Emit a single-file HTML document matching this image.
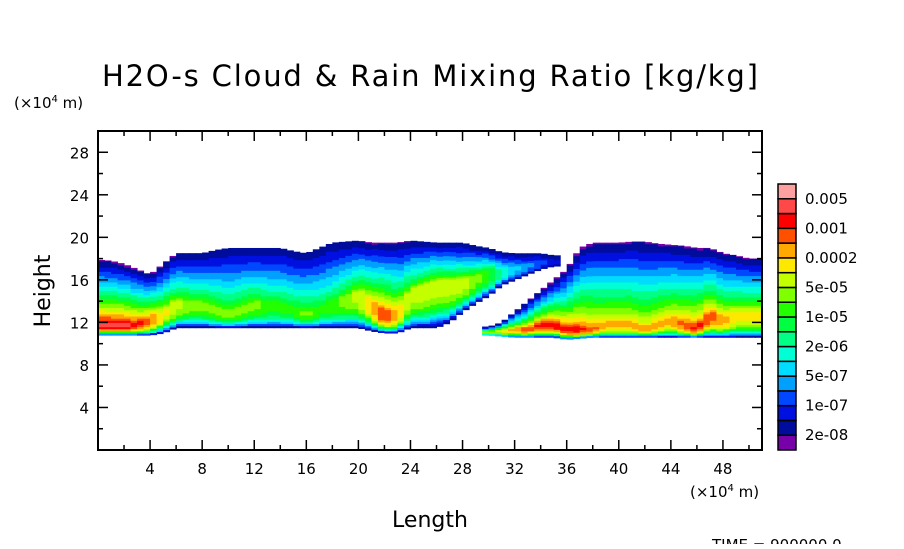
<!DOCTYPE html>
<html><head><meta charset="utf-8"><style>
body{margin:0;background:#fff;width:904px;height:544px;overflow:hidden}
svg text{font-family:"DejaVu Sans","Liberation Sans",sans-serif;fill:#000}
</style></head><body>
<svg id="chart" width="904" height="544" viewBox="0 0 904 544" xmlns="http://www.w3.org/2000/svg">
<text x="102" y="86" font-size="29" textLength="656" lengthAdjust="spacing">H2O-s Cloud &amp; Rain Mixing Ratio [kg/kg]</text>
<text x="14" y="108" font-size="15">(×10<tspan dy="-6" font-size="10">4</tspan><tspan dy="6"> m)</tspan></text>
<text x="690" y="497" font-size="15">(×10<tspan dy="-6" font-size="10">4</tspan><tspan dy="6"> m)</tspan></text>
<text x="430" y="527" font-size="22" text-anchor="middle">Length</text>
<text x="50" y="291" font-size="22" text-anchor="middle" transform="rotate(-90 50 291)">Height</text>
<text x="712" y="550" font-size="15">TIME = 900000.0</text>
<g id="cells"></g>
<g id="axes"></g>
<g id="cbar"></g>
</svg>
<script>
const xCols=[0,1,2,3,4,5,6,7,8,9,10,11,12,13,14,15,16,17,18,19,20,21,22,23,24,25,26,27,28,29,30,31,32,33,34,35,36,37,38,39,40,41,42,43,44,45,46,47,48,49,50,51];
// layer A (upper-left cloud)
const baseA=[10.8,10.8,10.8,10.8,10.8,11,11.5,11.5,11.5,11.5,11.5,11.5,11.5,11.5,11.5,11.5,11.5,11.5,11.5,11.5,11.5,11.2,11,11,11.5,11.5,11.5,12,13,13.8,14.5,15.5,16,16.5,17,17.3,null,null,null,null,null,null,null,null,null,null,null,null,null,null,null,null];
const topA=[17.9,17.8,17.5,17,16.5,17.5,18.5,18.5,18.5,18.8,19,19,19,19,19,18.7,18.5,19,19.5,19.6,19.7,19.5,19.5,19.5,19.7,19.6,19.5,19.5,19.5,19.2,19,18.6,18.5,18.5,18.5,18.3,null,null,null,null,null,null,null,null,null,null,null,null,null,null,null,null];
const maxA=[16,16,16,15,14,12,11,10,10,10,10,10,10,9,9,9,10,9,9,10,11,13,15,13,11,11,11,11,11,10,9,7,5,4,3,2,null,null,null,null,null,null,null,null,null,null,null,null,null,null,null,null];
const peakA=[12,12,12,12,12.5,13,14,14,14,13.5,13,13.5,14,14,14,13.5,13,13.5,14,14.5,15,14,13,13,15,15.5,16,16,16,16.5,17,17,17.2,17.5,17.7,17.8,null,null,null,null,null,null,null,null,null,null,null,null,null,null,null,null];
// layer B (right cloud)
const baseB=[null,null,null,null,null,null,null,null,null,null,null,null,null,null,null,null,null,null,null,null,null,null,null,null,null,null,null,null,null,null,10.8,10.7,10.6,10.6,10.6,10.6,10.4,10.5,10.6,10.6,10.6,10.6,10.6,10.6,10.6,10.6,10.6,10.6,10.6,10.6,10.6,10.6];
const topB=[null,null,null,null,null,null,null,null,null,null,null,null,null,null,null,null,null,null,null,null,null,null,null,null,null,null,null,null,null,null,11.6,12,13,14,15,16,17,19,19.5,19.5,19.5,19.6,19.6,19.4,19.3,19.2,19,19,18.5,18.3,18,18];
const maxB=[null,null,null,null,null,null,null,null,null,null,null,null,null,null,null,null,null,null,null,null,null,null,null,null,null,null,null,null,null,null,10,12,13,14,15,15,15,15,14,13,13,13,13,13,13,14,15,14,13,12,12,12];
const peakB=[null,null,null,null,null,null,null,null,null,null,null,null,null,null,null,null,null,null,null,null,null,null,null,null,null,null,null,null,null,null,11.2,11.3,11.5,11.5,12,12,11.5,11.5,11.5,12,12,12,11.5,12,12.5,12,11.5,13,12.5,13,13,13];
const levelColors=["#7800a8","#000c9c","#0010e0","#0048ff","#00a0ff","#00dcff","#00ffd4","#00ff84","#00ff40","#24ff00","#80ff00","#c4ff00","#ffe800","#ffa800","#ff5000","#ff0000","#ff4848","#ffa0a0"];
const levelLabels=["2e-08","1e-07","5e-07","2e-06","1e-05","5e-05","0.0002","0.001","0.005"];
const xTicks=[4,8,12,16,20,24,28,32,36,40,44,48];
const yTicks=[4,8,12,16,20,24,28];

const X0=98,X1=762,Y0=131,Y1=450;
const xmin=0,xmax=51,ymin=0,ymax=30;
const sx=v=>X0+(v-xmin)/(xmax-xmin)*(X1-X0);
const sy=v=>Y1-(v-ymin)/(ymax-ymin)*(Y1-Y0);
const NS="http://www.w3.org/2000/svg";
function mk(t,a,p){const e=document.createElementNS(NS,t);for(const k in a)e.setAttribute(k,a[k]);p.appendChild(e);return e;}
const cells=document.getElementById('cells');
function interp(arr,x){const i=Math.floor(x),f=x-i;const a=arr[i],b=arr[Math.min(i+1,arr.length-1)];if(a==null&&b==null)return null;if(a==null)return f>0.5?b:null;if(b==null)return f<0.5?a:null;return a+(b-a)*f;}
function drawLayer(base,top,mx,pk){
  const dx=0.5,dh=0.2;
  for(let x=0;x<51;x+=dx){
    const xc=x+dx/2;const b=interp(base,xc),t=interp(top,xc),m=interp(mx,xc),p=interp(pk,xc);
    if(b==null||t==null||m==null||p==null)continue;
    for(let h=b;h<t;h+=dh){
      const hc=h+dh/2;
      let lv;
      if(hc<p){const d=Math.min(1,(p-hc)/Math.max(p-b,0.1));lv=m-m*Math.pow(d,3);}
      else{const d=Math.min(1,(hc-p)/Math.max(t-p,0.1));lv=m-(m-1)*Math.pow(d,0.75)*1.05;}
      lv=Math.max(0,Math.min(17,Math.round(lv)));
      const r=mk('rect',{x:sx(x).toFixed(2),y:sy(Math.min(h+dh,t)).toFixed(2),width:(sx(x+dx)-sx(x)+0.5).toFixed(2),height:(sy(h)-sy(Math.min(h+dh,t))+0.5).toFixed(2),fill:levelColors[lv]},cells);
      
      
    }
  }
}
drawLayer(baseA,topA,maxA,peakA);
drawLayer(baseB,topB,maxB,peakB);

const ax=document.getElementById('axes');
const frame=mk('rect',{x:X0,y:Y0,width:X1-X0,height:Y1-Y0,fill:'none',stroke:'#000','stroke-width':2},ax);


for(let v=2;v<51;v+=2){const maj=v%4===0,L=maj?10:5;
  mk('line',{x1:sx(v),x2:sx(v),y1:Y1,y2:Y1-L,stroke:'#000','stroke-width':1.5},ax);
  mk('line',{x1:sx(v),x2:sx(v),y1:Y0,y2:Y0+L,stroke:'#000','stroke-width':1.5},ax);}
for(let v=2;v<30;v+=2){const maj=v%4===0,L=maj?10:5;
  mk('line',{x1:X0,x2:X0+L,y1:sy(v),y2:sy(v),stroke:'#000','stroke-width':1.5},ax);
  mk('line',{x1:X1,x2:X1-L,y1:sy(v),y2:sy(v),stroke:'#000','stroke-width':1.5},ax);}
xTicks.forEach(v=>{const t=mk('text',{x:sx(v),y:Y1+24,'font-size':15,'text-anchor':'middle'},ax);t.textContent=v;
  
  });
yTicks.forEach(v=>{const t=mk('text',{x:X0-9,y:sy(v)+6,'font-size':15,'text-anchor':'end'},ax);t.textContent=v;
  
  });

const cb=document.getElementById('cbar');
const CX=778,CW=18,CT=184,CB=450,n=levelColors.length,bh=(CB-CT)/n;
levelColors.forEach((c,i)=>{const r=mk('rect',{x:CX,y:CB-(i+1)*bh,width:CW,height:bh,fill:c,stroke:'#000','stroke-width':1.5},cb);
  
  });
levelLabels.forEach((l,j)=>{const i=2*j+1;const t=mk('text',{x:805,y:CB-i*bh+5,'font-size':15},cb);t.textContent=l;
  
  });
</script>
</body></html>
